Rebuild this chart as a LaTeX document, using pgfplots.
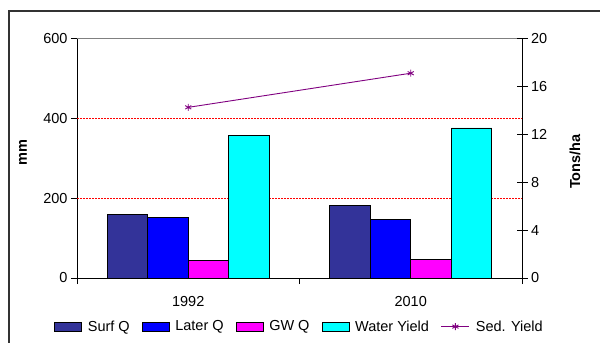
\documentclass[border=0pt]{standalone}
\usepackage{fontspec}
\setmainfont{Liberation Sans}
\usepackage{pgfplots}
\pgfplotsset{compat=1.18}
\definecolor{cSurf}{HTML}{333399}
\definecolor{cLat}{HTML}{0000FF}
\definecolor{cGW}{HTML}{FF00FF}
\definecolor{cWY}{HTML}{00FFFF}
\definecolor{cSed}{HTML}{800080}
\newcommand{\myfont}{\fontsize{14.5bp}{17bp}\selectfont}
\pgfplotsset{
 barleg/.style={legend image code/.code={\draw[##1,draw=black,line width=0.6bp] (0bp,-4.5bp) rectangle (27bp,4.5bp);}},
 lineleg/.style={legend image code/.code={\draw[mark repeat=2,mark phase=2,##1] plot coordinates {(0bp,0bp) (14bp,0bp) (28bp,0bp)};}},
}
\begin{document}
\begin{tikzpicture}[font=\myfont]
\path[use as bounding box] (0,0) rectangle (600bp,343bp);
\draw[line width=1.3bp, black!80] (9bp,-20bp) -- (9bp,332bp) -- (620bp,332bp);
\begin{axis}[
 at={(77bp,65bp)}, anchor=south west,
 scale only axis, width=445bp, height=239.5bp,
 xmin=-0.5, xmax=1.5, ymin=0, ymax=600,
 axis x line*=bottom, axis y line*=left,
 xtick={-0.5,0.5,1.5}, xticklabels={},
 extra x ticks={0,1}, extra x tick labels={1992,2010},
 extra x tick style={major tick length=0pt},
 ytick={0,200,400,600}, tick align=outside, major tick length=6bp,
 extra y ticks={200,400}, extra y tick labels={},
 extra y tick style={grid=major, major tick length=0pt},
 major grid style={red, dash pattern=on 1.5bp off 1.5bp, line width=0.8bp},
 axis line style={black, line width=0.8bp},
 tick style={black, line width=0.8bp},
 ticklabel style={font=\myfont},
 ylabel={mm},
 every axis y label/.style={at={(axis description cs:-0.1213,0.522)}, rotate=90, anchor=center, font=\myfont\bfseries},
 ybar=0pt, bar width=40.5bp,
 /pgf/number format/assume math mode=true,
 xticklabel style={yshift=-15bp},
]
\addplot[fill=cSurf, draw=black, line width=0.6bp] coordinates {(0,160) (1,182)};
\addplot[fill=cLat, draw=black, line width=0.6bp] coordinates {(0,151) (1,146)};
\addplot[fill=cGW, draw=black, line width=0.6bp] coordinates {(0,44) (1,47)};
\addplot[fill=cWY, draw=black, line width=0.6bp] coordinates {(0,357) (1,376)};
\draw[gray, line width=0.8bp] (rel axis cs:0,1) -- (rel axis cs:1,1);
\end{axis}
\begin{axis}[
 at={(77bp,65bp)}, anchor=south west,
 scale only axis, width=445bp, height=239.5bp,
 xmin=-0.5, xmax=1.5, ymin=0, ymax=20,
 axis y line*=right, axis x line=none,
 ytick={0,4,...,20}, tick align=center, major tick length=11bp,
 axis line style={black, line width=0.8bp},
 tick style={black, line width=0.8bp},
 ticklabel style={font=\myfont},
 ylabel={Tons/ha},
 every axis y label/.style={at={(axis description cs:1.119,0.486)}, rotate=90, anchor=center, font=\myfont\bfseries},
 /pgf/number format/assume math mode=true,
 legend columns=5,
 legend style={at={(axis description cs:0.5,-0.203)}, anchor=center, draw=none, fill=none, font=\myfont,
   /tikz/every odd column/.append style={column sep=4bp},
   /tikz/every even column/.append style={column sep=10bp}},
]
\addlegendimage{barleg, fill=cSurf}
\addlegendentry{Surf Q}
\addlegendimage{barleg, fill=cLat}
\addlegendentry{Later Q}
\addlegendimage{barleg, fill=cGW}
\addlegendentry{GW Q}
\addlegendimage{barleg, fill=cWY}
\addlegendentry{Water Yield}
\addplot[cSed, line width=0.9bp, mark=asterisk, mark size=3.5bp, lineleg] coordinates {(0,14.25) (1,17.1)};
\addlegendentry{Sed. Yield}
\end{axis}
\end{tikzpicture}
\end{document}
